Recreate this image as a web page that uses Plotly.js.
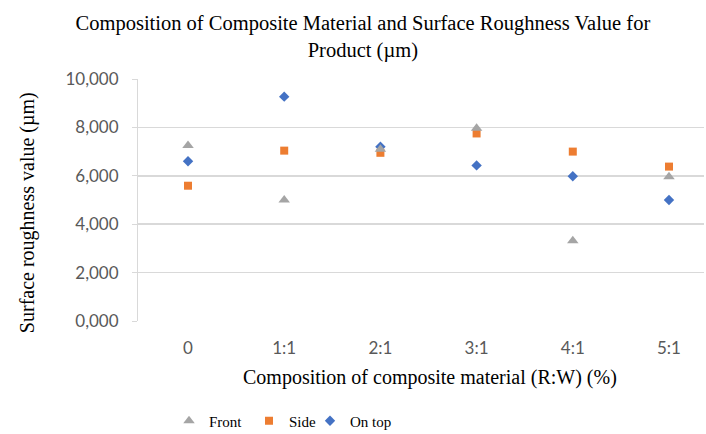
<!DOCTYPE html>
<html><head><meta charset="utf-8">
<script src="https://cdn.plot.ly/plotly-3.0.1.min.js"></script>
<style>body{margin:0;background:#fff}#c{width:706px;height:434px}</style>
</head><body><div id="c"></div>
<script>
const categories = ["0", "1:1", "2:1", "3:1", "4:1", "5:1"];
const front = [7250, 5000, 7100, 7960, 3320, 5960];
const side = [5590, 7040, 6950, 7750, 7000, 6380];
const onTop = [6600, 9270, 7200, 6430, 5980, 5000];
const yTickVals = [0, 2000, 4000, 6000, 8000, 10000];
const yTickText = ["0,000", "2,000", "4,000", "6,000", "8,000", "10,000"];

const xIdx = categories.map((c, i) => i);
const serif = "Liberation Serif, Times New Roman, serif";
const sans = "Lato, Liberation Sans, sans-serif";

const traces = [
  {name: "On top", x: xIdx, y: onTop, type: "scatter", mode: "markers", legend: "legend3",
   marker: {symbol: "diamond", size: 8, color: "#4472c4"}},
  {name: "Side", x: xIdx, y: side, type: "scatter", mode: "markers", legend: "legend2",
   marker: {symbol: "square", size: 8, color: "#ed7d31"}},
  {name: "Front", x: xIdx, y: front, type: "scatter", mode: "markers", legend: "legend",
   marker: {symbol: "triangle-up", size: 10, color: "#a5a5a5"}}
];

function leg(xpx) {
  return {orientation: "h", xref: "paper", x: (xpx - 138) / 566, xanchor: "left",
          yref: "container", y: 1 - 421 / 434, yanchor: "middle",
          font: {family: serif, size: 15, color: "#000"}, itemwidth: 30, bgcolor: "rgba(0,0,0,0)"};
}

const layout = {
  width: 706, height: 434,
  margin: {l: 138, r: 2, t: 79, b: 113},
  paper_bgcolor: "#fff", plot_bgcolor: "#fff",
  title: {text: "Composition of Composite Material and Surface Roughness Value for<br>Product (µm)",
          font: {family: serif, size: 20.5, color: "#000"}, xref: "container", x: 0.514, xanchor: "center",
          yref: "container", y: 0.93, yanchor: "middle"},
  xaxis: {range: [-0.52, 5.364], tickvals: xIdx, ticktext: categories, showgrid: false, zeroline: false,
          showline: false, ticks: "", ticklabelstandoff: 15, tickfont: {family: sans, size: 17, color: "#595959"},
          fixedrange: true},
  yaxis: {range: [0, 10000], tickvals: yTickVals, ticktext: yTickText, showgrid: true, gridcolor: "#d9d9d9", gridwidth: 1.5,
          zeroline: false, showline: true, linecolor: "#d9d9d9", linewidth: 1, ticks: "outside", ticklen: 5, tickcolor: "#d9d9d9",
          ticklabelstandoff: 10, tickfont: {family: sans, size: 17, color: "#595959"}},
  annotations: [
    {text: "Composition of composite material (R:W) (%)", xref: "paper", yref: "paper", x: 0.516, y: -0.2355,
     xanchor: "center", yanchor: "middle", showarrow: false, font: {family: serif, size: 20, color: "#000"}},
    {text: "Surface roughness value (µm)", xref: "paper", yref: "paper", x: -0.196, y: 0.446, textangle: -90,
     xanchor: "center", yanchor: "middle", showarrow: false, font: {family: serif, size: 20, color: "#000"}}
  ],
  showlegend: true,
  legend: leg(169),
  legend2: leg(249),
  legend3: leg(310)
};
Plotly.newPlot("c", traces, layout, {displayModeBar: false, staticPlot: true});
</script></body></html>
